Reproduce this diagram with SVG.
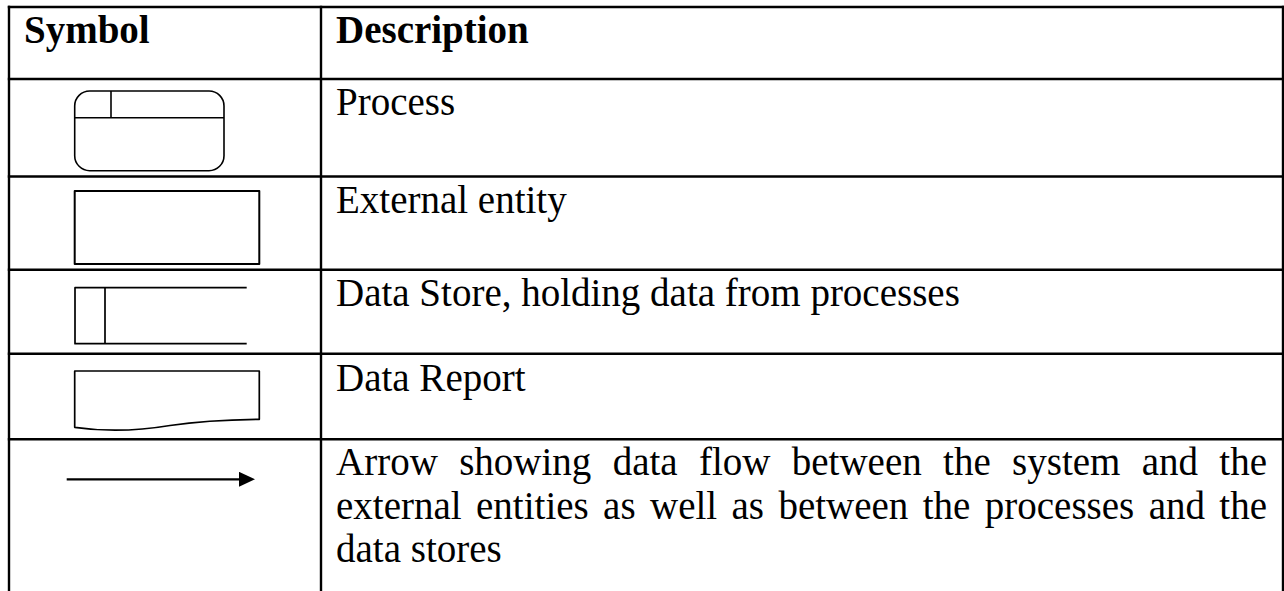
<svg xmlns="http://www.w3.org/2000/svg" width="1284" height="591" viewBox="0 0 1284 591">
  <style>
    .grid { stroke: #000; stroke-width: 2.4; fill: none; }
    .sym { stroke: #000; fill: none; stroke-linejoin: round; }
    .head { font-family: "Liberation Serif", "Times New Roman", serif; font-size: 39px; font-weight: bold; fill: #000; }
    .desc { font-family: "Liberation Serif", "Times New Roman", serif; font-size: 39px; fill: #000; }
  </style>
  <defs>
    <marker id="arrowhead" markerUnits="userSpaceOnUse" markerWidth="16" markerHeight="15" refX="6" refY="7.5" orient="auto">
      <path d="M0,0 L16,7.5 L0,15 Z" fill="#000"/>
    </marker>
  </defs>
  <rect width="1284" height="591" fill="#fff"/>

  <!-- table rules -->
  <g id="grid" class="grid">
    <line x1="9" y1="5.8" x2="9" y2="591"/>
    <line x1="321" y1="5.8" x2="321" y2="591"/>
    <line x1="1283" y1="5.8" x2="1283" y2="591"/>
    <line x1="7.8" y1="7" x2="1284" y2="7"/>
    <line x1="7.8" y1="79" x2="1284" y2="79"/>
    <line x1="7.8" y1="176.5" x2="1284" y2="176.5"/>
    <line x1="7.8" y1="269.7" x2="1284" y2="269.7"/>
    <line x1="7.8" y1="353.7" x2="1284" y2="353.7"/>
    <line x1="7.8" y1="439.3" x2="1284" y2="439.3"/>
  </g>

  <!-- header -->
  <g id="header">
    <text class="head" x="24" y="43">Symbol</text>
    <text class="head" x="336" y="43">Description</text>
  </g>

  <!-- process -->
  <g id="process">
    <rect class="sym" x="74.7" y="91" width="149.3" height="79.7" rx="15" ry="15" stroke-width="1.6"/>
    <line class="sym" x1="74.7" y1="117.7" x2="224" y2="117.7" stroke-width="1.6"/>
    <line class="sym" x1="111" y1="91" x2="111" y2="117.7" stroke-width="1.6"/>
    <text class="desc" x="336" y="115">Process</text>
  </g>

  <!-- external entity -->
  <g id="external-entity">
    <rect class="sym" x="74.7" y="191" width="184.6" height="73" stroke-width="2"/>
    <text class="desc" x="336" y="213">External entity</text>
  </g>

  <!-- data store -->
  <g id="data-store">
    <path class="sym" d="M246.7,287.7 H75 V343.7 H246.7 M105,287.7 V343.7" stroke-width="1.7"/>
    <text class="desc" x="336" y="306">Data Store, holding data from processes</text>
  </g>

  <!-- data report -->
  <g id="data-report">
    <path class="sym" d="M74.7,427.3 V371 H259.3 V419.3 C230,419.6 200,421 170,425.5 C140,430.5 110,432.5 74.7,427.3 Z" stroke-width="1.7"/>
    <text class="desc" x="336" y="391">Data Report</text>
  </g>

  <!-- data flow -->
  <g id="data-flow">
    <text class="desc" x="336" y="475" word-spacing="11.6" textLength="931" lengthAdjust="spacing">Arrow showing data flow between the system and the</text>
    <text class="desc" x="336" y="519" word-spacing="4.6" textLength="931" lengthAdjust="spacing">external entities as well as between the processes and the</text>
    <text class="desc" x="336" y="562">data stores</text>
  </g>

  <g id="connectors">
    <line x1="66.7" y1="479.3" x2="245" y2="479.3" stroke="#000" stroke-width="2.2" marker-end="url(#arrowhead)"/>
  </g>
</svg>
